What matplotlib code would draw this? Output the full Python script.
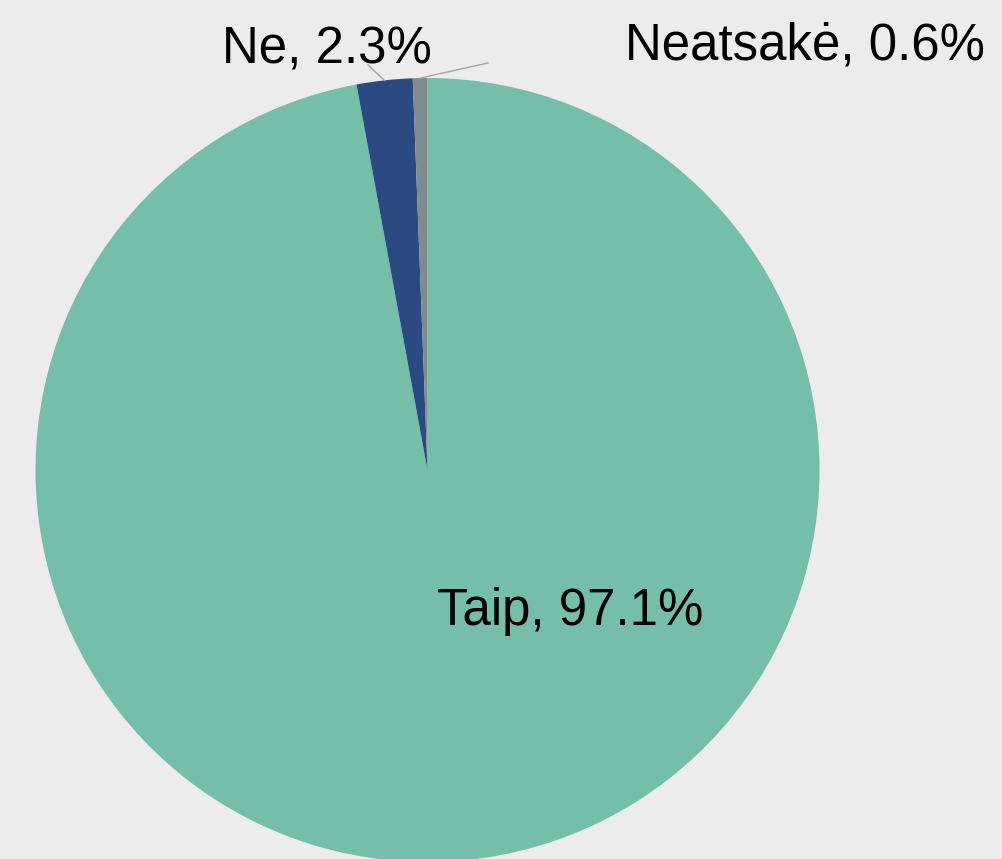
import numpy as np
import matplotlib
matplotlib.use("Agg")
import matplotlib.pyplot as plt

# data
kategorijos = ["Taip", "Ne", "Neatsakė"]
procentai = [97.1, 2.3, 0.6]
spalvos = ["#75bea8", "#2c4a82", "#7f8c8d"]

plt.rcParams['font.family'] = ['Liberation Sans', 'DejaVu Sans']

W, H = 1003, 859
fig = plt.figure(figsize=(W / 100, H / 100), dpi=100)
fig.patch.set_facecolor("#ececec")
ax = fig.add_axes([0, 0, 1, 1])
ax.set_xlim(0, W)
ax.set_ylim(0, H)
ax.axis("off")

cx, cy, r = 427.5, H - 470, 392
wedges, _ = ax.pie(procentai, colors=spalvos, startangle=90, counterclock=False,
                   center=(cx, cy), radius=r, frame=True,
                   wedgeprops=dict(linewidth=0))
ax.set_xlim(0, W)
ax.set_ylim(0, H)
ax.set_aspect("equal")
ax.axis("off")

# label placement (pixel coords, y from top)
label_pos = [(437, 625), (222, 63), (625, 60)]
leader_end = [None, (368, 65), (488, 63)]

for w, kat, p, (lx, ly), le in zip(wedges, kategorijos, procentai, label_pos, leader_end):
    ax.text(lx, H - ly, f"{kat}, {p}%", fontsize=36.7, ha="left", va="baseline",
            color="black")
    if le is not None:
        ang = np.deg2rad((w.theta1 + w.theta2) / 2)
        x0, y0 = cx + r * np.cos(ang), cy + r * np.sin(ang)
        ax.plot([x0, le[0]], [y0, H - le[1]], color="#a6a6a6", lw=1)

fig.savefig("out.png", dpi=100, facecolor=fig.get_facecolor())
